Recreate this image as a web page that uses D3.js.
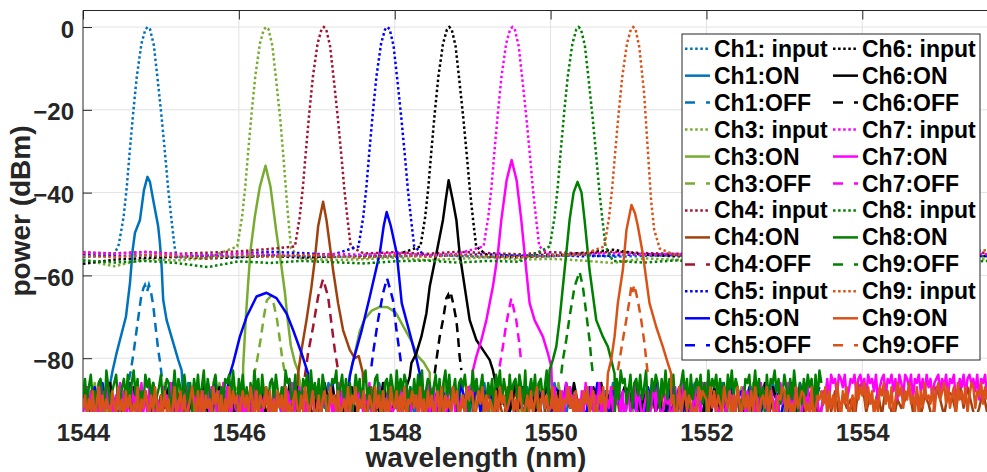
<!DOCTYPE html>
<html><head><meta charset="utf-8">
<script src="https://cdn.jsdelivr.net/npm/d3@7"></script>
<style>
body{margin:0;background:#fff;}
svg{display:block;font-family:"Liberation Sans",Arial,Helvetica,sans-serif;}
</style>
</head><body>
<svg id="chart" width="987" height="472"></svg>
<script>
// ---------------- DATA ----------------
const channels = ["Ch1","Ch3","Ch4","Ch5","Ch6","Ch7","Ch8","Ch9"];
const inputColors = ["#0072BD","#77AC30","#A2142F","#0000FF","#000000","#FF00FF","#008000","#D95319"];
const onColors    = ["#0072BD","#77AC30","#A0410D","#0000FF","#000000","#FF00FF","#008000","#D95319"];
const offColors   = ["#0072BD","#77AC30","#A2142F","#0000FF","#000000","#FF00FF","#008000","#D95319"];
const legendLabels = [
  "Ch1: input","Ch1:ON","Ch1:OFF","Ch3: input","Ch3:ON","Ch3:OFF",
  "Ch4: input","Ch4:ON","Ch4:OFF","Ch5: input","Ch5:ON","Ch5:OFF",
  "Ch6: input","Ch6:ON","Ch6:OFF","Ch7: input","Ch7:ON","Ch7:OFF",
  "Ch8: input","Ch8:ON","Ch9:OFF","Ch9: input","Ch9:ON","Ch9:OFF"
];
const xTicks = [1544,1546,1548,1550,1552,1554];
const yTicks = [0,-20,-40,-60,-80];
const xDomain = [1544, 1555.6];
const yDomain = [-93, 4];

// input (dotted) floor level, dBm, one value every 0.4 nm from 1544.0 nm
const floorStart = 1544, floorStep = 0.4;
const floorCh1 = [-55.6,-55.0,-55.3,-55.5,-55.2,-55.6,-55.1,-55.4,-55.6,-55.2,-55.5,-55.0,-55.3,-55.6,-55.2,-55.4,-55.0,-55.5,-55.3,-55.1,-55.6,-55.2,-55.4,-55.0,-55.5,-55.3,-55.1,-55.5,-55.2,-55.4];
const floorCh3 = [-56.2,-57.8,-56.0,-56.4,-55.8,-56.5,-56.0,-55.9,-56.3,-56.1,-55.7,-56.3,-56.0,-55.6,-56.2,-56.0,-56.4,-57.0,-55.9,-56.2,-56.4,-55.8,-56.3,-56.0,-55.9,-56.4,-56.1,-55.8,-56.3,-56.0];
const floorCh4 = [-54.4,-54.7,-54.3,-54.8,-54.5,-54.2,-53.6,-54.5,-54.3,-54.7,-54.4,-54.8,-54.3,-54.6,-54.9,-54.4,-54.7,-54.3,-54.6,-54.8,-54.3,-54.6,-54.4,-54.8,-54.5,-54.3,-54.7,-54.4,-54.6,-54.5];
const floorCh5 = [-55.0,-55.4,-55.1,-55.6,-55.2,-54.8,-54.3,-54.6,-55.0,-55.3,-55.0,-55.4,-55.1,-54.9,-55.3,-55.0,-55.4,-55.2,-54.8,-55.1,-55.4,-55.0,-55.3,-55.1,-55.4,-55.0,-55.2,-55.4,-55.1,-55.3];
const floorCh6 = [-57.2,-56.2,-55.8,-55.5,-55.9,-55.6,-55.3,-55.7,-55.4,-55.6,-55.2,-55.5,-55.8,-55.4,-55.6,-55.3,-54.6,-53.8,-55.0,-55.4,-55.2,-55.6,-55.3,-55.5,-55.1,-55.4,-55.6,-55.2,-55.5,-55.3];
const floorCh7 = [-54.5,-54.8,-54.4,-54.9,-55.1,-54.7,-54.9,-55.2,-54.8,-55.0,-54.6,-55.1,-54.8,-55.0,-54.7,-55.2,-54.9,-54.6,-55.0,-54.8,-55.1,-54.7,-54.9,-55.2,-54.8,-54.6,-55.0,-54.8,-54.5,-54.9];
const floorCh8 = [-56.4,-56.9,-56.5,-57.0,-58.0,-56.6,-57.0,-56.5,-56.8,-57.1,-56.6,-56.4,-56.9,-56.5,-56.7,-56.3,-56.8,-56.5,-56.9,-56.4,-56.7,-57.0,-56.5,-56.8,-56.4,-56.9,-56.6,-56.3,-56.8,-56.5];
const floorCh9 = [-55.3,-55.6,-55.1,-55.4,-55.8,-55.2,-55.5,-55.0,-55.4,-55.7,-55.2,-55.5,-55.1,-55.4,-55.6,-55.2,-55.0,-55.3,-55.6,-55.1,-55.4,-55.2,-55.6,-55.3,-55.0,-55.4,-55.2,-54.8,-54.4,-53.9];

// input peaks [wavelength nm, dBm]
const inPeakCh1 = [[1544.46,-52.5],[1544.52,-46],[1544.56,-39],[1544.60,-30],[1544.645,-20.5],[1544.69,-12],[1544.75,-4],[1544.80,-0.6],[1544.83,0],[1544.86,-0.5],[1544.91,-4.5],[1544.96,-13],[1545.01,-22],[1545.055,-31],[1545.095,-39.5],[1545.135,-46.5],[1545.175,-53]];
const inPeakCh3 = [[1545.98,-53],[1546.04,-46],[1546.08,-39],[1546.12,-30],[1546.165,-20.5],[1546.21,-12],[1546.27,-4],[1546.32,-0.6],[1546.35,0],[1546.38,-0.5],[1546.43,-4.5],[1546.48,-13],[1546.53,-22],[1546.57,-31],[1546.605,-39.5],[1546.635,-46.5],[1546.67,-53.5]];
const inPeakCh4 = [[1546.72,-53],[1546.78,-46],[1546.82,-39],[1546.86,-30],[1546.905,-20.5],[1546.95,-12],[1547.01,-4],[1547.06,-0.6],[1547.09,0],[1547.12,-0.5],[1547.17,-4.5],[1547.22,-13],[1547.27,-22],[1547.315,-31],[1547.355,-39.5],[1547.395,-46.5],[1547.435,-53]];
const inPeakCh5 = [[1547.535,-53],[1547.595,-46],[1547.635,-39],[1547.675,-30],[1547.72,-20.5],[1547.765,-12],[1547.825,-4],[1547.875,-0.6],[1547.905,0],[1547.935,-0.5],[1547.985,-4.5],[1548.035,-13],[1548.085,-22],[1548.13,-31],[1548.17,-39.5],[1548.21,-46.5],[1548.25,-53]];
const inPeakCh6 = [[1548.33,-53],[1548.39,-46],[1548.43,-39],[1548.47,-30],[1548.515,-20.5],[1548.56,-12],[1548.62,-4],[1548.67,-0.6],[1548.70,0],[1548.73,-0.5],[1548.78,-4.5],[1548.83,-13],[1548.88,-22],[1548.925,-31],[1548.965,-39.5],[1549.005,-46.5],[1549.045,-53]];
const inPeakCh7 = [[1549.14,-53],[1549.20,-46],[1549.24,-39],[1549.28,-30],[1549.325,-20.5],[1549.37,-12],[1549.43,-4],[1549.48,-0.6],[1549.51,0],[1549.54,-0.5],[1549.59,-4.5],[1549.64,-13],[1549.69,-22],[1549.735,-31],[1549.775,-39.5],[1549.815,-46.5],[1549.855,-53]];
const inPeakCh8 = [[1549.99,-53],[1550.05,-46],[1550.09,-39],[1550.13,-30],[1550.175,-20.5],[1550.22,-12],[1550.28,-4],[1550.33,-0.6],[1550.36,0],[1550.39,-0.5],[1550.44,-4.5],[1550.49,-13],[1550.54,-22],[1550.585,-31],[1550.625,-39.5],[1550.665,-46.5],[1550.705,-53]];
const inPeakCh9 = [[1550.69,-53],[1550.75,-46],[1550.79,-39],[1550.83,-30],[1550.875,-20.5],[1550.92,-12],[1550.98,-4],[1551.03,-0.6],[1551.06,0],[1551.09,-0.5],[1551.14,-5],[1551.20,-16],[1551.245,-29],[1551.29,-42],[1551.33,-49],[1551.40,-53.5]];

// ON (solid) peaks: list of segments of [wavelength nm, dBm]
const onPeakCh1 = [[[1544.381,-82.9],[1544.432,-78.7],[1544.551,-70.0],[1544.603,-61.8],[1544.637,-53.9],[1544.667,-49.7],[1544.731,-46.6],[1544.782,-39.4],[1544.827,-36.2],[1544.859,-37.4],[1544.901,-41.8],[1544.965,-48.2],[1544.987,-52.2],[1545.009,-57.9],[1545.029,-65.9],[1545.073,-70.8],[1545.158,-76.3],[1545.222,-80.4],[1545.265,-82.9]]];
const onPeakCh3 = [
  [[1546.055,-82],[1546.090,-70],[1546.119,-61.9],[1546.150,-53.9],[1546.205,-45.8],[1546.269,-38.6],[1546.342,-33.5],[1546.406,-38.6],[1546.483,-49.8],[1546.547,-57.9],[1546.590,-64],[1546.628,-71],[1546.667,-77],[1546.718,-81],[1546.760,-83]],
  [[1547.423,-84],[1547.487,-79],[1547.551,-73.5],[1547.615,-70.5],[1547.705,-68.5],[1547.808,-67.6],[1547.910,-67.7],[1548.013,-69],[1548.115,-72.5],[1548.218,-76],[1548.295,-79.5],[1548.372,-81],[1548.449,-83.5]]
];
const onPeakCh4 = [[[1546.760,-83.7],[1546.804,-78],[1546.868,-70.8],[1546.932,-62.7],[1546.974,-56.3],[1547.017,-48.2],[1547.081,-42.2],[1547.124,-46.6],[1547.209,-58.7],[1547.273,-66.7],[1547.337,-73.2],[1547.423,-78],[1547.487,-80],[1547.538,-79.5],[1547.590,-83.5]]];
const onPeakCh5 = [
  [[1545.863,-85.3],[1545.927,-81.2],[1546.013,-74.8],[1546.099,-70],[1546.227,-65.1],[1546.355,-64.2],[1546.483,-65.5],[1546.612,-69.2],[1546.696,-73.2],[1546.804,-78.8],[1546.888,-83.7]],
  [[1547.423,-84.5],[1547.462,-81],[1547.577,-73.2],[1547.679,-65.2],[1547.808,-54.7],[1547.859,-48],[1547.897,-44.7],[1547.949,-48],[1548.026,-54.7],[1548.090,-66.7],[1548.192,-73.9],[1548.282,-80.4],[1548.321,-83.7]]
];
const onPeakCh6 = [[[1548.192,-84.5],[1548.214,-81.2],[1548.278,-78.8],[1548.342,-74.8],[1548.406,-69.2],[1548.449,-62.7],[1548.535,-54.7],[1548.619,-46.6],[1548.654,-41.8],[1548.692,-37],[1548.744,-41.8],[1548.791,-46.6],[1548.833,-54.7],[1548.897,-62.7],[1548.962,-70.8],[1549.047,-75.6],[1549.132,-78],[1549.218,-80.4],[1549.260,-82.9],[1549.304,-86.9]]];
const onPeakCh7 = [[[1549.004,-82.9],[1549.047,-79.6],[1549.112,-75.6],[1549.176,-70.8],[1549.260,-62.7],[1549.324,-54.7],[1549.368,-46.6],[1549.436,-37],[1549.500,-32.1],[1549.564,-37],[1549.624,-46.6],[1549.688,-58.7],[1549.731,-66.7],[1549.795,-70.8],[1549.901,-74.8],[1549.965,-78.8],[1550.009,-82]]];
const onPeakCh8 = [[[1549.987,-82.9],[1550.029,-80.4],[1550.073,-77.2],[1550.115,-70.8],[1550.158,-62.7],[1550.201,-54.7],[1550.244,-46.6],[1550.295,-40],[1550.346,-37.4],[1550.397,-40],[1550.436,-46.6],[1550.500,-58.7],[1550.586,-70.8],[1550.671,-74.8],[1550.735,-77.2],[1550.778,-80.4],[1550.821,-83.7]]];
const onPeakCh9 = [[[1550.735,-83.7],[1550.778,-80.4],[1550.821,-74.8],[1550.863,-66.7],[1550.927,-58.7],[1550.974,-49],[1551.038,-43],[1551.083,-45],[1551.119,-48],[1551.183,-54.7],[1551.269,-66.7],[1551.355,-72.4],[1551.440,-77.2],[1551.504,-81.2],[1551.547,-83.7]]];

// OFF (dashed) peaks [wavelength nm, dBm]
const offPeakCh1 = [[1544.590,-85.3],[1544.615,-82.9],[1544.654,-78],[1544.705,-70.8],[1544.744,-65.5],[1544.776,-63],[1544.795,-62.3],[1544.821,-64],[1544.846,-62.3],[1544.872,-64],[1544.901,-67.2],[1544.929,-72],[1544.965,-78],[1544.994,-81.6],[1545.013,-84.8]];
const offPeakCh3 = [[1546.192,-84.5],[1546.235,-80.4],[1546.278,-75.6],[1546.321,-70],[1546.359,-66],[1546.406,-65.1],[1546.449,-67],[1546.491,-70.8],[1546.526,-75.6],[1546.556,-80],[1546.599,-84.5]];
const offPeakCh4 = [[1546.846,-84.5],[1546.888,-78.8],[1546.953,-72.4],[1547.017,-65.1],[1547.081,-60.9],[1547.145,-65.1],[1547.188,-71.6],[1547.231,-78],[1547.273,-82.9]];
const offPeakCh5 = [[1547.701,-82],[1547.722,-78.8],[1547.786,-70.8],[1547.850,-64.3],[1547.901,-60.7],[1547.936,-63],[1547.978,-66],[1548.022,-73.2],[1548.064,-78.8],[1548.086,-82]];
const offPeakCh6 = [[1548.513,-83.7],[1548.535,-80.4],[1548.577,-74.8],[1548.619,-70.8],[1548.663,-65.5],[1548.686,-64.7],[1548.705,-66],[1548.724,-64.7],[1548.747,-66.5],[1548.791,-70.8],[1548.812,-74.8],[1548.833,-79.6],[1548.855,-82.9]];
const offPeakCh7 = [[1549.346,-82],[1549.388,-77.2],[1549.432,-71.6],[1549.496,-65.5],[1549.560,-70.8],[1549.603,-77.2],[1549.624,-81.2]];
const offPeakCh8 = [[1550.137,-83.7],[1550.158,-80.4],[1550.201,-75.6],[1550.244,-70],[1550.308,-62.7],[1550.372,-59.1],[1550.414,-62.7],[1550.458,-69.2],[1550.500,-75.6],[1550.522,-80.4],[1550.542,-83.7]];
const offPeakCh9 = [[1550.863,-82.9],[1550.885,-80.4],[1550.927,-75.6],[1550.971,-70.8],[1551.013,-66],[1551.038,-62.3],[1551.055,-64],[1551.073,-62.3],[1551.119,-66],[1551.163,-70.8],[1551.205,-76.4],[1551.227,-80.4],[1551.247,-83.7]];

// detector noise floor of the ON traces, sampled from 1544.0 nm at the given step;
// each character is a level: dBm = -95 + (base-36 digit)
const noiseStart = 1544, noiseBase = -95;
const noiseSteps = [0.05,0.05,0.05,0.05,0.05,0.025,0.025,0.025];
const noiseCh1 = "2618374950527384619238471629507162938450492837165061839472502739461850836172945052948173603718264950683917245042718369507946182350258371946061948273503827416950846291735051382749602947183650";
const noiseCh3 = "3729461850628394715249173826502846193758739152846051829473608263719452394718265061829364502749381658936271845048271639587193846250365827194082941637505173928460284967165863918274504728193650";
const noiseCh4 = "36271482505183726401274815362063815274804172638150725381640218364725805472816302361825740862741835202851736408473816250471628534083527418602638471520818257364085173826402264837150873518264024827163508926371840535827164085176293840372";
const noiseCh5 = "4718293650629384715238492617587162938457293857164084617293585183926470927461835236192847507385162948492736185061483927582873946150839162745857261849303948271650716283945748392617506281947358";
const noiseCh6 = "5826374918273846519263817492563927485160836492715347192836507294836158183647295059283746193746182953826193745049381726586172839450284936175873916482505263819470918273645036274918586491827350";
const noiseCh7 = "2583716049273815064937152846039271846053184639270517382649075273918460729385164238160472958316472093642817390528471639501937462805193746281573851649207384615932460928371546082739168271530496827154308651938264073519826407274038591627403859166381507294836150729438264917053826491705715928403671592840364503827196450382719692746130582746138058173850629473185062946491738502649173850276a5b9a6ba8b57a9b6ab8a6b9a7b58ab6a9b7a5b96ba8b5a9b7a6b8a59ab7a8b6a9b57a8b6ab9a7b5a9b6a";
const noiseCh8 = "6a48b5739a62c8479b538a5b39c6a274b8a59368b47a926c5a83b7492a6b58c4a739b6284a9b5c73a6b48295c7a3b6849a5b7384c9a56b273a8b4c695a3b8267a9c48b5a3926b7a49c5836ab4729a5b83c6a7b9284a5b6c37a948b5a29c6b47a39a8b625c7a48b3596a2b8c4a73b69a5b84c27a6b39a58c4a7392b6a8c45b7a9326b8a5c4b97a36b82a5c9a47b39a6b58c24a7b93a6c5a8b4279c6a3b58a7b492c6a8b5a394b7c6a8253a9b47c6a382b5a9c7a46b83a5c7294a6b8a3b5c9";
const noiseCh9 = "3615270481625307418250736142805374162830617250381472603584172706351847260518374604736285170643827150736182405731628504712605731846270351826481537026418360725184371628054736182507361472806351847036285760374816253071846235725184036271580473623806172548360715274815703648271560384716638271054628730615482746038157264031857650837264185370628417361728405638174026587162408357624180365748173629507481362958693847152869473815968375946281739564827957948368195748269837" + "69485";
const floors = [floorCh1,floorCh3,floorCh4,floorCh5,floorCh6,floorCh7,floorCh8,floorCh9];
const inPeaks = [inPeakCh1,inPeakCh3,inPeakCh4,inPeakCh5,inPeakCh6,inPeakCh7,inPeakCh8,inPeakCh9];
const onPeaks = [onPeakCh1,onPeakCh3,onPeakCh4,onPeakCh5,onPeakCh6,onPeakCh7,onPeakCh8,onPeakCh9];
const offPeaks = [offPeakCh1,offPeakCh3,offPeakCh4,offPeakCh5,offPeakCh6,offPeakCh7,offPeakCh8,offPeakCh9];
const noises = [noiseCh1,noiseCh3,noiseCh4,noiseCh5,noiseCh6,noiseCh7,noiseCh8,noiseCh9];

// ---------------- BUILD ----------------
function merge(background, segments){
  const spans = segments.map(s => [s[0][0], s[s.length-1][0]]);
  const pts = background.filter(p => !spans.some(sp => p[0] >= sp[0] && p[0] <= sp[1]));
  segments.forEach(s => s.forEach(p => pts.push(p)));
  return pts.sort((a,b) => a[0]-b[0]);
}

const M = {left:83, top:10.5, right:987, bottom:412};
const x = d3.scaleLinear().domain(xDomain).range([M.left, M.right]);
const y = d3.scaleLinear().domain(yDomain).range([M.bottom, M.top]);
const svg = d3.select("#chart");
const axisColor = "#262626";
const FONT = "'Liberation Sans',Arial,Helvetica,sans-serif";

svg.append("defs").append("clipPath").attr("id","plotclip")
  .append("rect").attr("x",M.left).attr("y",M.top).attr("width",M.right-M.left).attr("height",M.bottom-M.top);

// grid
const grid = svg.append("g");
grid.selectAll(".gx").data(xTicks.slice(1)).enter().append("line")
  .attr("x1",d=>x(d)).attr("x2",d=>x(d)).attr("y1",M.top).attr("y2",M.bottom)
  .attr("stroke","#e2e2e2").attr("stroke-width",1);
grid.selectAll(".gy").data(yTicks).enter().append("line")
  .attr("x1",M.left).attr("x2",M.right).attr("y1",d=>y(d)).attr("y2",d=>y(d))
  .attr("stroke","#e2e2e2").attr("stroke-width",1);

// axes box lines + inward ticks
const gTop = svg.append("g").attr("transform",`translate(0,${M.top})`)
  .call(d3.axisBottom(x).tickValues(xTicks).tickSize(9).tickSizeOuter(0).tickFormat(""));
const gLeft = svg.append("g").attr("transform",`translate(${M.left},0)`)
  .call(d3.axisRight(y).tickValues(yTicks).tickSize(9).tickSizeOuter(0).tickFormat(""));
[gTop,gLeft].forEach(g=>{ g.selectAll("path,line").attr("stroke",axisColor).attr("stroke-width",1); });
gTop.select("path").attr("d",`M${M.left},0H${M.right}`);
gLeft.select("path").attr("d",`M0,${M.top}V${M.bottom}`);

// tick labels
const gxl = svg.append("g").attr("transform",`translate(0,${M.bottom})`)
  .call(d3.axisBottom(x).tickValues(xTicks).tickSize(0).tickPadding(0).tickFormat(d3.format("d")));
gxl.select("path").remove();
gxl.selectAll("text").attr("y",29).attr("dy",null).attr("fill",axisColor)
  .style("font-size","24px").style("font-weight","bold").style("font-family",FONT);
const gyl = svg.append("g").attr("transform",`translate(${M.left},0)`)
  .call(d3.axisLeft(y).tickValues(yTicks).tickSize(0).tickPadding(9).tickFormat(d3.format("d")));
gyl.select("path").remove();
gyl.selectAll("text").attr("dy","0.42em").attr("fill",axisColor)
  .style("font-size","24px").style("font-weight","bold").style("font-family",FONT);

// axis titles
svg.append("text").attr("x",476).attr("y",467).attr("text-anchor","middle")
  .attr("fill",axisColor).style("font-size","28px").style("font-weight","bold").text("wavelength (nm)");
svg.append("text").attr("transform","translate(30,211) rotate(-90)").attr("text-anchor","middle")
  .attr("fill",axisColor).style("font-size","28px").style("font-weight","bold").text("power (dBm)");

// traces (plot order: input, ON, OFF per channel)
const line = d3.line().x(d=>x(d[0])).y(d=>y(d[1]));
const plot = svg.append("g").attr("clip-path","url(#plotclip)");
const dotDash = "2.5,2.6", offDash = "9,6";
channels.forEach((ch,k)=>{
  const floorPts = floors[k].map((v,i)=>[floorStart + i*floorStep, v]);
  const inData = merge(floorPts, [inPeaks[k]]);
  const noisePts = noises[k].split("").map((c,i)=>[noiseStart + i*noiseSteps[k], noiseBase + parseInt(c,36)]);
  const onData = merge(noisePts, onPeaks[k]);
  plot.append("path").datum(inData).attr("d",line).attr("fill","none")
    .attr("stroke",inputColors[k]).attr("stroke-width",2.5).attr("stroke-dasharray",dotDash);
  plot.append("path").datum(onData).attr("d",line).attr("fill","none")
    .attr("stroke",onColors[k]).attr("stroke-width",2.5).attr("stroke-linejoin","round");
  plot.append("path").datum(offPeaks[k]).attr("d",line).attr("fill","none")
    .attr("stroke",offColors[k]).attr("stroke-width",2.5).attr("stroke-dasharray",offDash);
});

// legend
const lg = svg.append("g");
lg.append("rect").attr("x",682).attr("y",34).attr("width",298).attr("height",326)
  .attr("fill","#fff").attr("stroke",axisColor).attr("stroke-width",1);
const colX = [685, 833];
legendLabels.forEach((lab,i)=>{
  const k = Math.floor(i/3), kind = ["input","on","off"][i%3];
  const color = kind==="input"?inputColors[k]:kind==="on"?onColors[k]:offColors[k];
  const col = Math.floor(i/12), row = i%12;
  const by = 56.7 + row*26.96;
  const x0 = colX[col];
  lg.append("line").attr("x1",x0).attr("x2",x0+25).attr("y1",by-8).attr("y2",by-8)
    .attr("stroke",color).attr("stroke-width",2.5)
    .attr("stroke-dasharray", kind==="input"?dotDash:(kind==="off"?"10,11":null));
  lg.append("text").attr("x",x0+29).attr("y",by).attr("fill","#000")
    .style("font-size","23px").style("font-weight","bold").style("font-family",FONT).text(lab);
});
</script>
</body></html>
